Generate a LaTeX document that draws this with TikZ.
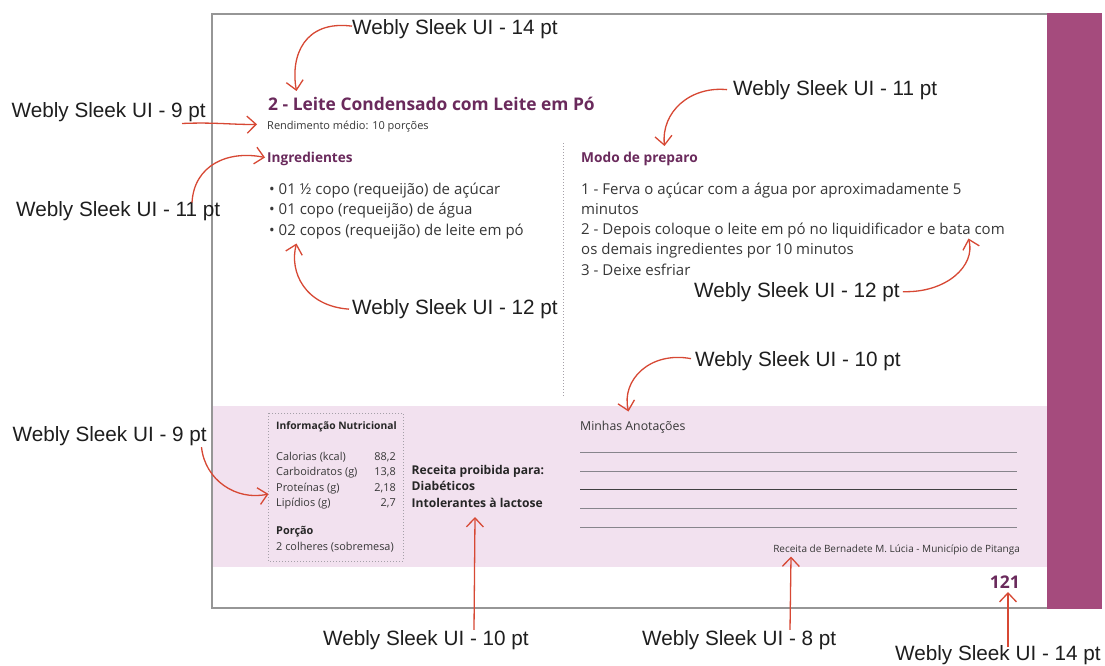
\documentclass[tikz,border=0pt]{standalone}
\usepackage{fontspec}
\setmainfont{Open Sans}
\newfontfamily\annfont{Liberation Sans}
\usetikzlibrary{arrows.meta}
\definecolor{pagebar}{RGB}{165,75,125}
\definecolor{band}{RGB}{242,225,239}
\definecolor{heading}{RGB}{106,42,92}
\definecolor{bodytext}{RGB}{55,55,55}
\definecolor{framegray}{RGB}{150,150,150}
\definecolor{rulegray}{RGB}{135,133,140}
\definecolor{dotgray}{RGB}{165,160,168}
\definecolor{notered}{RGB}{215,72,52}
\definecolor{anntext}{RGB}{30,30,30}
\newcommand\fsz[1]{\fontsize{#1}{#1}\selectfont}
\begin{document}
\begin{tikzpicture}[x=1pt,y=-1pt,
  txt/.style={inner sep=0pt, anchor=base west, text=bodytext},
  txtr/.style={inner sep=0pt, anchor=base east, text=bodytext},
  ann/.style={inner sep=0pt, anchor=base west, text=anntext, font=\annfont\fsz{20.7}},
  pointer/.style={draw=notered, line width=1.3pt,
    -{Straight Barb[length=9pt,width=17pt,line width=1.3pt]}},
  dots/.style={draw=dotgray, line width=1pt, dash pattern=on 1pt off 2pt}]
\useasboundingbox (0,0) rectangle (1105,666);
\fill[white] (0,0) rectangle (1105,666);

% page: notes band, frame and side bar
\fill[band] (213,406) rectangle (1047,567);
\draw[framegray, line width=1.5pt] (1047,14) -- (212,14) -- (212,608) -- (1047,608);
\fill[pagebar] (1047,13.3) rectangle (1102,608.7);

% title
\node[txt, text=heading, font=\bfseries\fsz{17.4}] (title) at (268,111) {2 - Leite Condensado com Leite em Pó};
\node[txt, font=\fsz{11}] (yield) at (267,130) {Rendimento médio: 10 porções};

% ingredients
\node[txt, text=heading, font=\bfseries\fsz{13.6}] (ingh) at (267,162.5) {Ingredientes};
\node[txt, font=\fsz{15}] (ing1) at (269,194) {• 01 ½ copo (requeijão) de açúcar};
\node[txt, font=\fsz{15}] (ing2) at (269,214.5) {• 01 copo (requeijão) de água};
\node[txt, font=\fsz{15}] (ing3) at (269,235) {• 02 copos (requeijão) de leite em pó};

% column separator
\draw[dots] (563,143) -- (563,397);

% method
\node[txt, text=heading, font=\bfseries\fsz{13.7}] (modh) at (581,162.5) {Modo de preparo};
\node[txt, font=\fsz{15}] (m1) at (581,194) {1 - Ferva o açúcar com a água por aproximadamente 5};
\node[txt, font=\fsz{15}] (m2) at (581,214) {minutos};
\node[txt, font=\fsz{15}] (m3) at (581,234.5) {2 - Depois coloque o leite em pó no liquidificador e bata com};
\node[txt, font=\fsz{15}] (m4) at (581,254.5) {os demais ingredientes por 10 minutos};
\node[txt, font=\fsz{15}] (m5) at (581,275) {3 - Deixe esfriar};

% nutrition facts box
\draw[dots] (268,413) rectangle (403,561);
\node[txt, text=black!85, font=\bfseries\fsz{10.3}] (nuth) at (276,429.5) {Informação Nutricional};
\node[txt, font=\fsz{10.9}] (n1) at (276,460) {Calorias (kcal)};
\node[txt, font=\fsz{10.9}] (n2) at (276,475.5) {Carboidratos (g)};
\node[txt, font=\fsz{10.9}] (n3) at (276,491) {Proteínas (g)};
\node[txt, font=\fsz{10.9}] (n4) at (276,506.5) {Lipídios (g)};
\node[txtr, font=\fsz{10.9}] (v1) at (396,460) {88,2};
\node[txtr, font=\fsz{10.9}] (v2) at (396,475.5) {13,8};
\node[txtr, font=\fsz{10.9}] (v3) at (396,491) {2,18};
\node[txtr, font=\fsz{10.9}] (v4) at (396,506.5) {2,7};
\node[txt, text=black!85, font=\bfseries\fsz{10.9}] (porh) at (276,534.5) {Porção};
\node[txt, font=\fsz{10.9}] (por) at (276,550) {2 colheres (sobremesa)};

% restrictions
\node[txt, text=black!85, font=\bfseries\fsz{12.1}] (r1) at (411.5,474) {Receita proibida para:};
\node[txt, text=black!85, font=\bfseries\fsz{12.1}] (r2) at (411.5,490.7) {Diabéticos};
\node[txt, text=black!85, font=\bfseries\fsz{12.1}] (r3) at (411.5,507.7) {Intolerantes à lactose};

% notes area
\node[txt, font=\fsz{12.3}] (notes) at (580,430) {Minhas Anotações};
\foreach \yy/\cc in {452.7/rulegray, 471.3/rulegray, 489.3/black!75, 508.3/rulegray, 527.3/rulegray}
  \draw[\cc, line width=1.2pt] (580,\yy) -- (1017,\yy);
\node[txtr, font=\fsz{10}] (credit) at (1020,552) {Receita de Bernadete M. Lúcia - Município de Pitanga};

% page number
\node[txtr, text=heading, font=\bfseries\fsz{17.5}] (pnum) at (1020,588.3) {121};

% font annotations
\node[ann] (a1) at (352,34.5) {Webly Sleek UI - 14 pt};
\node[ann] (a2) at (733,96) {Webly Sleek UI - 11 pt};
\node[ann] (a3) at (11.5,117.3) {Webly Sleek UI - 9 pt};
\node[ann] (a4) at (16,216) {Webly Sleek UI - 11 pt};
\node[ann] (a5) at (352,314.5) {Webly Sleek UI - 12 pt};
\node[ann] (a6) at (694,297) {Webly Sleek UI - 12 pt};
\node[ann] (a7) at (695,366) {Webly Sleek UI - 10 pt};
\node[ann] (a8) at (12.5,441.7) {Webly Sleek UI - 9 pt};
\node[ann] (a9) at (323,645) {Webly Sleek UI - 10 pt};
\node[ann] (a10) at (642,645) {Webly Sleek UI - 8 pt};
\node[ann] (a11) at (895,660.5) {Webly Sleek UI - 14 pt};

% pointer tips
\coordinate (t1) at (296.5,91);
\coordinate (t2) at (664.5,146);
\coordinate (t3) at (257,124.3);
\coordinate (t4) at (265,157.5);
\coordinate (t5) at (296.5,243.5);
\coordinate (t6) at (968.5,238.5);
\coordinate (t7) at (628.5,411.5);
\coordinate (t8) at (268.5,494);
\coordinate (t9) at (475,517);
\coordinate (t10) at (791,556.5);
\coordinate (t11) at (1008,592);

\draw[pointer] ([yshift=3pt]a1.west) .. controls (305,20) and (290,55) .. (t1);
\draw[pointer] ([xshift=-6pt,yshift=1pt]a2.west) .. controls (690,86) and (661,112) .. (t2);
\draw[pointer] (182,123.5) .. controls (215,122) and (235,125) .. (t3);
\draw[pointer] ([xshift=176pt,yshift=8pt]a4.west) .. controls (194,165) and (228,150) .. (t4);
\draw[pointer] ([xshift=-3pt]a5.west) .. controls (305,306) and (289,272) .. (t5);
\draw[pointer] ([xshift=3pt]a6.east) .. controls (946,293) and (976,266) .. (t6);
\draw[pointer] ([xshift=-4pt,yshift=2pt]a7.west) .. controls (650,351) and (621,380) .. (t7);
\draw[pointer] ([xshift=189pt,yshift=-1pt]a8.south west) .. controls (205,480) and (236,501) .. (t8);
\draw[pointer] (a9.north -| 474,0) -- (t9);
\draw[pointer] (a10.north -| 790,0) -- (t10);
\draw[pointer] ([yshift=-2pt]a11.north -| 1008,0) -- (t11);
\end{tikzpicture}
\end{document}
